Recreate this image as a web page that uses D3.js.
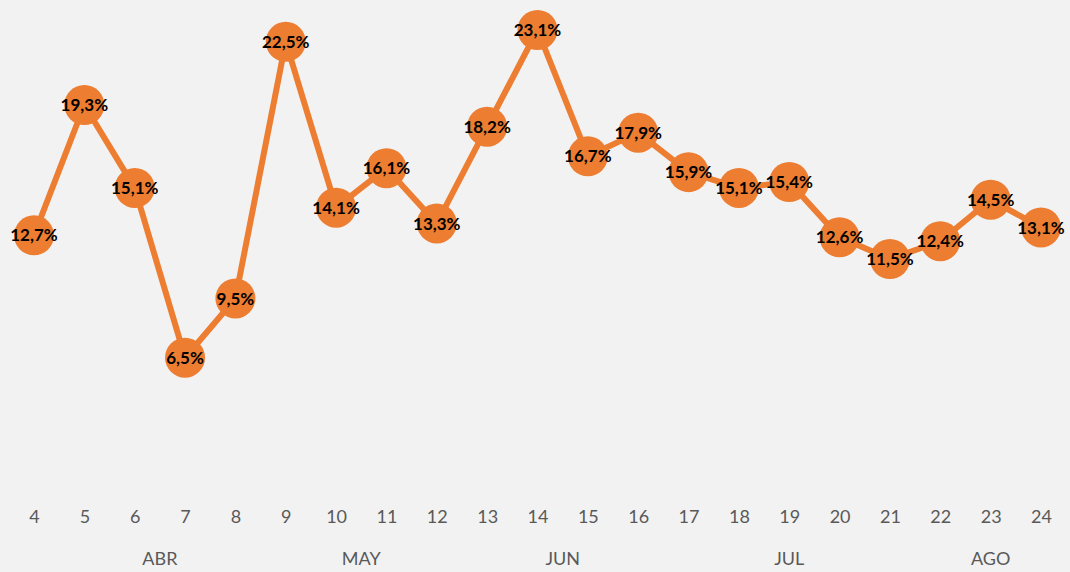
<!DOCTYPE html>
<html>
<head>
<meta charset="utf-8">
<script src="https://cdn.jsdelivr.net/npm/d3@7"></script>
<style>
  body { margin: 0; background: #f2f2f2; }
  svg { display: block; }
</style>
</head>
<body>
<svg></svg>
<script>
let weeks = [4, 5, 6, 7, 8, 9, 10, 11, 12, 13, 14, 15, 16, 17, 18, 19, 20, 21, 22, 23, 24];
let values = [12.7, 19.3, 15.1, 6.5, 9.5, 22.5, 14.1, 16.1, 13.3, 18.2, 23.1, 16.7, 17.9, 15.9, 15.1, 15.4, 12.6, 11.5, 12.4, 14.5, 13.1];
let months = ["ABR", "MAY", "JUN", "JUL", "AGO"];
let monthCenters = [6.5, 10.5, 14.5, 19, 23];

let width = 1070;
let height = 572;
let orange = "#ed7d31";

let svg = d3.select("svg").attr("width", width).attr("height", height);

svg.append("rect").attr("width", width).attr("height", height).attr("fill", "#f2f2f2");

let xScale = d3.scaleLinear().domain([4, 24]).range([34, 1041]);
let yScale = d3.scaleLinear().domain([0, 23.1]).range([486, 30]);

let pts = weeks.map((w, i) => ({ week: w, value: values[i] }));

let line = d3.line()
  .x((d) => xScale(d.week))
  .y((d) => yScale(d.value));

svg.append("path")
  .datum(pts)
  .attr("d", line)
  .attr("fill", "none")
  .attr("stroke", orange)
  .attr("stroke-width", 6)
  .attr("stroke-linejoin", "round");

svg.selectAll("circle")
  .data(pts)
  .enter()
  .append("circle")
  .attr("cx", (d) => xScale(d.week))
  .attr("cy", (d) => yScale(d.value))
  .attr("r", 20)
  .attr("fill", orange);

svg.selectAll(".lbl")
  .data(pts)
  .enter()
  .append("text")
  .attr("class", "lbl")
  .attr("x", (d) => xScale(d.week))
  .attr("y", (d) => yScale(d.value))
  .attr("dy", "0.36em")
  .attr("text-anchor", "middle")
  .attr("font-family", "Lato, sans-serif")
  .attr("font-weight", "bold")
  .attr("font-size", 17)
  .attr("fill", "#000")
  .text((d) => d3.format(".1f")(d.value).replace(".", ",") + "%");

// x axis tick labels
let xAxis = d3.axisBottom(xScale).tickValues(weeks).tickFormat(d3.format("d")).tickSize(0);
let gx = svg.append("g")
  .attr("transform", "translate(0,507)")
  .call(xAxis);
gx.select(".domain").remove();
gx.selectAll("text")
  .attr("font-family", "Lato, sans-serif")
  .attr("font-size", 18)
  .attr("fill", "#595959");

svg.selectAll(".month")
  .data(months)
  .enter()
  .append("text")
  .attr("class", "month")
  .attr("x", (d, i) => xScale(monthCenters[i]))
  .attr("y", 565)
  .attr("text-anchor", "middle")
  .attr("font-family", "Lato, sans-serif")
  .attr("font-size", 18)
  .attr("fill", "#595959")
  .text((d) => d);
</script>
</body>
</html>
